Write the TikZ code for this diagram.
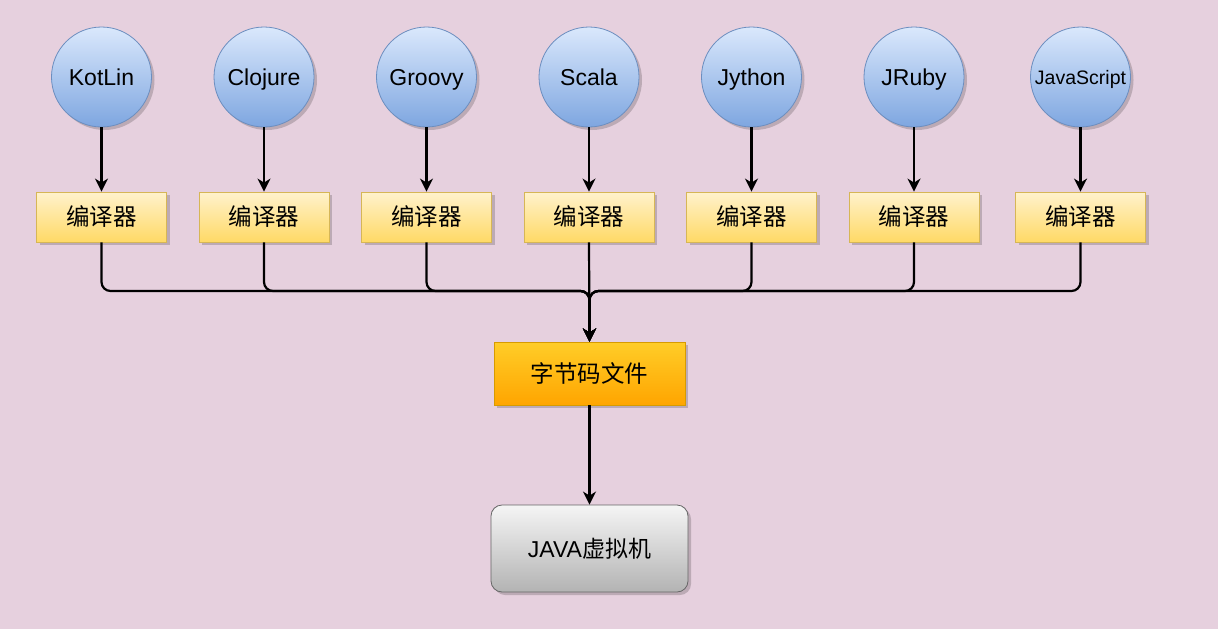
\documentclass[tikz,border=0pt]{standalone}
\usepackage{fontspec}
\setmainfont{Liberation Sans}
\newfontfamily\cjk{Noto Sans CJK SC}
\usetikzlibrary{shadows,arrows.meta}
\definecolor{bgc}{HTML}{E6D0DE}
\definecolor{langtop}{HTML}{DAE8FC}
\definecolor{langbot}{HTML}{7EA6E0}
\definecolor{langline}{HTML}{6C8EBF}
\definecolor{comptop}{HTML}{FFF2CC}
\definecolor{compbot}{HTML}{FFD966}
\definecolor{compline}{HTML}{D6B656}
\definecolor{bctop}{HTML}{FFCD28}
\definecolor{bcbot}{HTML}{FFA500}
\definecolor{bcline}{HTML}{D79B00}
\definecolor{jvmtop}{HTML}{F5F5F5}
\definecolor{jvmbot}{HTML}{B3B3B3}
\definecolor{jvmline}{HTML}{666666}
\tikzset{
  shad/.style={drop shadow={shadow xshift=3pt,shadow yshift=-3pt,opacity=0.18,fill=black}},
  latintext/.style={text height=16.5pt,text depth=0pt},
  cjktext/.style={text height=20.2pt,text depth=2.8pt},
  lang/.style={circle,minimum size=100pt,inner sep=0pt,draw=langline,line width=0.8pt,
    top color=langtop,bottom color=langbot,shad,font=\fontsize{23}{26}\selectfont,latintext},
  comp/.style={rectangle,minimum width=130pt,minimum height=50pt,inner sep=0pt,draw=compline,line width=0.8pt,
    top color=comptop,bottom color=compbot,shad,font=\cjk\fontsize{23.5}{26}\selectfont,cjktext},
  bcbox/.style={rectangle,minimum width=191pt,minimum height=63pt,inner sep=0pt,draw=bcline,line width=0.8pt,
    top color=bctop,bottom color=bcbot,shad,font=\cjk\fontsize{23.5}{26}\selectfont,cjktext},
  jvmbox/.style={rectangle,rounded corners=11pt,minimum width=197pt,minimum height=87pt,inner sep=0pt,draw=jvmline,line width=0.8pt,
    top color=jvmtop,bottom color=jvmbot,shad,font=\fontsize{23}{26}\selectfont,cjktext},
  flow/.style={line width=2.2pt,black,-{Stealth[length=13pt,width=13pt,inset=4pt]}},
  merge/.style={flow,rounded corners=9pt}
}
\begin{document}
\begin{tikzpicture}[x=1pt,y=-1pt]
\useasboundingbox (0,0) rectangle (1218,629);
\fill[bgc] (0,0) rectangle (1218,629);
\foreach \n/\x/\t in {1/101.5/KotLin,2/264/Clojure,3/426.5/Groovy,4/589/Scala,5/751.5/Jython,6/914/JRuby}{
  \node[lang] (l\n) at (\x,77) {\t};
  \node[comp] (c\n) at (\x,217) {编译器};
}
\node[lang,font=\fontsize{19.5}{22}\selectfont,text height=14pt] (l7) at (1080.5,77) {JavaScript};
\node[comp] (c7) at (1080.5,217) {编译器};
\node[bcbox] (bc) at (589.5,373.5) {字节码文件};
\node[jvmbox] (jvm) at (589.5,548.5) {JAVA{\cjk 虚拟机}};
\coordinate (m) at (589.5,291);
\foreach \i in {1,...,7}{
  \draw[flow] (l\i.south) -- (c\i.north);
}
\foreach \i in {1,2,3,5,6,7}{
  \draw[merge] (c\i.south) |- (m) -- (bc.north);
}
\draw[flow] (c4.south) -- (bc.north);
\draw[flow] (bc.south) -- (jvm.north);
\end{tikzpicture}
\end{document}
